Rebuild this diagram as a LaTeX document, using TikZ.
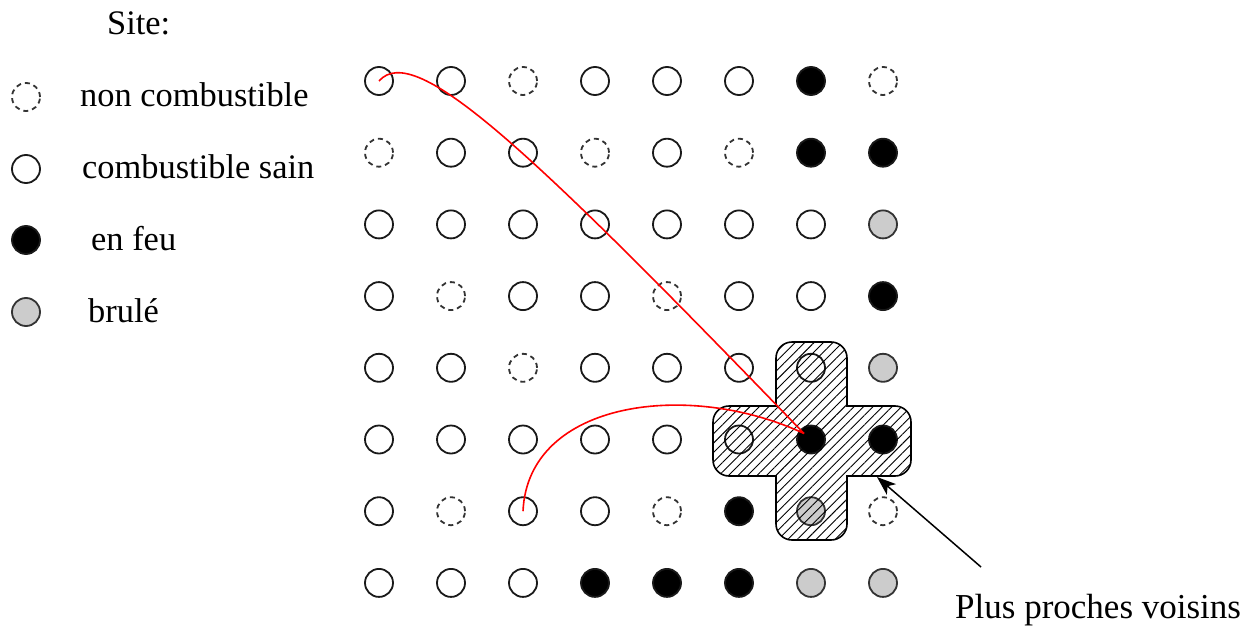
\documentclass[tikz,border=0pt]{standalone}
\usepackage{fontspec}
\setmainfont{Liberation Serif}
\usetikzlibrary{patterns.meta,arrows.meta,calc}
\definecolor{burnt}{RGB}{204,204,204}
\tikzset{
  site/.style={circle,minimum size=28pt,inner sep=0pt,line width=1.8pt,draw=black!90},
  sO/.style={fill=white},
  sD/.style={dash pattern=on 5pt off 4pt,draw=black!80},
  sF/.style={fill=black},
  sB/.style={fill=burnt,draw=black!80},
  lbl/.style={font=\fontsize{35}{40}\selectfont,inner sep=0pt,anchor=base west},
  leglbl/.style={lbl,font=\fontsize{34.4}{40}\selectfont},
  redcurve/.style={draw=red,line width=1.6pt},
}
\begin{document}
\begin{tikzpicture}[x=1pt,y=-1pt]
\useasboundingbox (0,0) rectangle (1247,626);
% legend
\node[leglbl] (title) at (107,35) {Site:};
\node[site,sD] (l1) at (26,97) {};
\node[site,sO] (l2) at (26,169) {};
\node[site,sF] (l3) at (26,240) {};
\node[site,sB] (l4) at (26,312) {};
\node[leglbl] (t1) at (80,106) {non combustible};
\node[leglbl] (t2) at (82,178) {combustible sain};
\node[leglbl] (t3) at (91,250) {en feu};
\node[leglbl] (t4) at (88,322) {brulé};
% grid
\foreach \r/\row in {1/{sO,sO,sD,sO,sO,sO,sF,sD},
                     2/{sD,sO,sO,sD,sO,sD,sF,sF},
                     3/{sO,sO,sO,sO,sO,sO,sO,sB},
                     4/{sO,sD,sO,sO,sD,sO,sO,sF},
                     5/{sO,sO,sD,sO,sO,sO,sO,sB},
                     6/{sO,sO,sO,sO,sO,sO,sF,sF},
                     7/{sO,sD,sO,sO,sD,sF,sB,sD},
                     8/{sO,sO,sO,sF,sF,sF,sB,sB}}{
  \foreach \s [count=\c] in \row {
    \node[site,\s] (n-\r-\c) at ({379+72*(\c-1)},{81+71.7*(\r-1)}) {};
  }
}
% neighbourhood cross
\draw[line width=1.6pt,pattern={Lines[angle=45,distance=6.7pt,line width=0.9pt]}]
  (811,342) [rounded corners=16pt] -- (847,342) [sharp corners] -- (847,406)
  [rounded corners=16pt] -- (911,406) -- (911,476) [sharp corners] -- (847,476)
  [rounded corners=16pt] -- (847,540) -- (776,540) [sharp corners] -- (776,476)
  [rounded corners=16pt] -- (713,476) -- (713,406) [sharp corners] -- (776,406)
  [rounded corners=16pt] -- (776,342) [sharp corners] -- cycle;
% red curves
\draw[redcurve] (n-1-1.center) .. controls (415,40) and (530,150) .. ($(n-6-7.center)+(-7,-6)$);
\draw[redcurve] (n-7-3.center) .. controls (528,400) and (690,380) .. ($(n-6-7.center)+(-7,-6)$);
% label and arrow
\node[lbl] (pv) at (955,618) {Plus proches voisins};
\coordinate (tip) at (877,477);
\coordinate (astart) at (981,567);
\draw[line width=1.5pt,-{Stealth[length=19pt,width=14pt,inset=5pt]}] (astart) -- (tip);
\end{tikzpicture}
\end{document}
